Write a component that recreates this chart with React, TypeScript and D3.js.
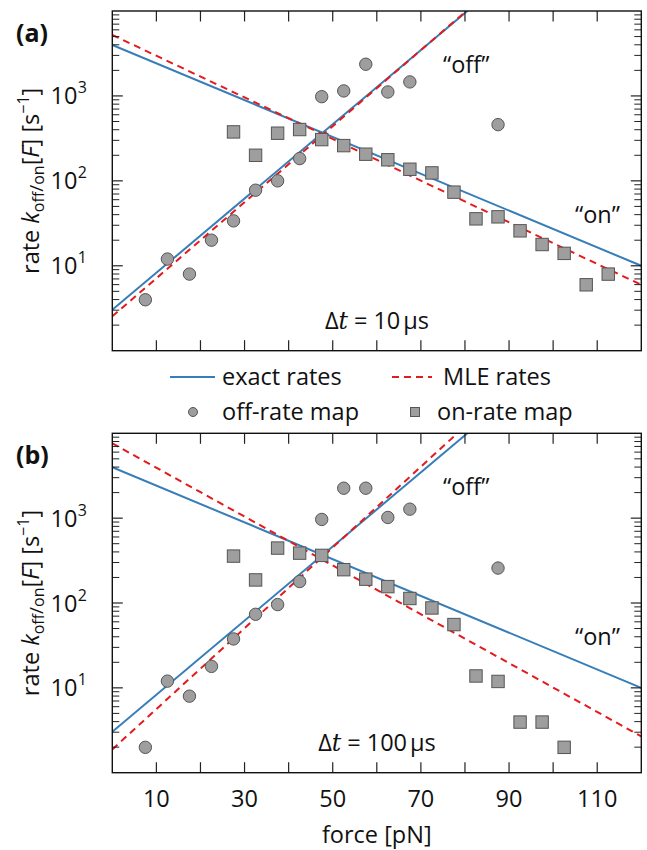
import React from "react";
import * as d3 from "d3";

// ---------- data ----------
const lineForce = [0, 120];
const exactOff = [3.03, 5.3e5];
const exactOn = [3980, 10];
const mleOffA = [2.54, 6.0e5];
const mleOnA = [5224, 5.97];
const mleOffB = [1.88, 9.7e5];
const mleOnB = [7620, 2.68];

const offForceA = [7.5, 12.5, 17.5, 22.5, 27.5, 32.5, 37.5, 42.5, 47.5, 52.5, 57.5, 62.5, 67.5, 87.5];
const offRateA = [3.98, 12.0, 7.98, 20.0, 33.8, 77.6, 100, 183, 980, 1145, 2362, 1114, 1462, 459];
const onForceA = [27.5, 32.5, 37.5, 42.5, 47.5, 52.5, 57.5, 62.5, 67.5, 72.5, 77.5, 82.5, 87.5, 92.5, 97.5, 102.5, 107.5, 112.5];
const onRateA = [377, 200, 364, 402, 306, 260, 206, 177, 137, 124, 73.6, 35.7, 37.7, 25.8, 17.8, 14.0, 5.97, 7.98];

const offForceB = [7.5, 12.5, 17.5, 22.5, 27.5, 32.5, 37.5, 42.5, 47.5, 52.5, 57.5, 62.5, 67.5, 87.5];
const offRateB = [1.99, 12.0, 7.98, 17.9, 37.7, 73.6, 95.8, 179, 966, 2254, 2254, 1019, 1276, 258];
const onForceB = [27.5, 32.5, 37.5, 42.5, 47.5, 52.5, 57.5, 62.5, 67.5, 72.5, 77.5, 82.5, 87.5, 92.5, 97.5, 102.5];
const onRateB = [357, 187, 444, 387, 364, 247, 191, 156, 113, 87.4, 55.7, 13.8, 11.9, 3.95, 3.95, 1.99];

const xTicks = [10, 20, 30, 40, 50, 60, 70, 80, 90, 100, 110];
const xTickLabels = [10, 30, 50, 70, 90, 110];
const yMajor = [10, 100, 1000];
const yMajorExp = ["1", "2", "3"];

const BLUE = "#377eb8";
const RED = "#e41a1c";
const FONT = "'Open Sans', 'DejaVu Sans', sans-serif";
const FS = 23.5;
const SUB = 16;

const X0 = 112.3, X1 = 641.3;

type PanelProps = {
  id: string;
  top: number;
  bottom: number;
  mleOff: number[];
  mleOn: number[];
  offF: number[];
  offR: number[];
  onF: number[];
  onR: number[];
  label: string;
  dt: string;
  showX: boolean;
};

function Panel(p: PanelProps) {
  const x = d3.scaleLinear().domain([0, 120]).range([X0, X1]);
  const y = d3.scaleLog().domain([1, 1e4]).range([p.bottom, p.top]);
  const line = d3
    .line<number>()
    .x((_, i) => x(lineForce[i]))
    .y((d) => y(d));
  const minors: number[] = [];
  for (let e = 0; e < 4; e++) for (let m = 2; m <= 9; m++) minors.push(m * Math.pow(10, e));
  const MAJ = 10.5, MIN = 7;
  const cy = (p.top + p.bottom) / 2;
  return (
    <g>
      <defs>
        <clipPath id={"clip" + p.id}>
          <rect x={X0} y={p.top} width={X1 - X0} height={p.bottom - p.top} />
        </clipPath>
      </defs>
      <g clipPath={`url(#clip${p.id})`}>
        <path d={line(exactOff) || ""} fill="none" stroke={BLUE} strokeWidth={2} />
        <path d={line(exactOn) || ""} fill="none" stroke={BLUE} strokeWidth={2} />
        <path d={line(p.mleOff) || ""} fill="none" stroke={RED} strokeWidth={2} strokeDasharray="7,5" />
        <path d={line(p.mleOn) || ""} fill="none" stroke={RED} strokeWidth={2} strokeDasharray="7,5" />
      </g>
      {p.offF.map((f, i) => (
        <circle key={"c" + i} cx={x(f)} cy={y(p.offR[i])} r={6.2} fill="#9e9e9e" stroke="#555" strokeWidth={1} />
      ))}
      {p.onF.map((f, i) => (
        <rect key={"s" + i} x={x(f) - 6.2} y={y(p.onR[i]) - 6.2} width={12.4} height={12.4} fill="#9e9e9e" stroke="#555" strokeWidth={1} />
      ))}
      {/* ticks */}
      {xTicks.map((t) => (
        <g key={"xt" + t} stroke="#222" strokeWidth={1.2}>
          <line x1={x(t)} x2={x(t)} y1={p.bottom} y2={p.bottom - MAJ} />
          <line x1={x(t)} x2={x(t)} y1={p.top} y2={p.top + MAJ} />
        </g>
      ))}
      {yMajor.map((t) => (
        <g key={"ym" + t} stroke="#222" strokeWidth={1.2}>
          <line x1={X0} x2={X0 + MAJ} y1={y(t)} y2={y(t)} />
          <line x1={X1} x2={X1 - MAJ} y1={y(t)} y2={y(t)} />
        </g>
      ))}
      {minors.map((t, i) => (
        <g key={"yn" + i} stroke="#222" strokeWidth={1}>
          <line x1={X0} x2={X0 + MIN} y1={y(t)} y2={y(t)} />
          <line x1={X1} x2={X1 - MIN} y1={y(t)} y2={y(t)} />
        </g>
      ))}
      <rect x={X0} y={p.top} width={X1 - X0} height={p.bottom - p.top} fill="none" stroke="#111" strokeWidth={1.4} />
      {/* y tick labels */}
      {yMajor.map((t, i) => (
        <text key={"yl" + t} x={87} y={y(t) + 8.5} textAnchor="end" fontFamily={FONT} fontSize={FS} fill="#111">
          10
          <tspan dx={0.5} dy={-11} fontSize={SUB}>{yMajorExp[i]}</tspan>
        </text>
      ))}
      {/* x tick labels */}
      {p.showX &&
        xTickLabels.map((t) => (
          <text key={"xl" + t} x={x(t)} y={p.bottom + 34} textAnchor="middle" fontFamily={FONT} fontSize={FS} fill="#111">
            {t}
          </text>
        ))}
      {/* y label */}
      <text transform={`translate(39,${cy}) rotate(-90)`} textAnchor="middle" fontFamily={FONT} fontSize={FS} fill="#111">
        <tspan>rate </tspan>
        <tspan fontStyle="italic">k</tspan>
        <tspan fontSize={SUB} dy={5}>off</tspan>
        <tspan fontSize={19} dy={-1}>/</tspan>
        <tspan fontSize={SUB} dy={1}>on</tspan>
        <tspan dy={-5}>[</tspan>
        <tspan fontStyle="italic">F</tspan>
        <tspan>] [s</tspan>
        <tspan fontSize={SUB} dy={-10}>−1</tspan>
        <tspan dy={10}>]</tspan>
      </text>
      {/* panel label */}
      <text x={16} y={p.top + 31} fontFamily={FONT} fontWeight="bold" fontSize={25} fill="#111">
        {p.label}
      </text>
      {/* annotations */}
      <text x={443} y={p.top + 62} fontFamily={FONT} fontSize={FS} fill="#111">“off”</text>
      <text x={575} y={p.top + 212} fontFamily={FONT} fontSize={FS} fill="#111">“on”</text>
      <text x={377} y={p.top + 318} textAnchor="middle" fontFamily={FONT} fontSize={FS} fill="#111">
        <tspan>Δ</tspan>
        <tspan fontStyle="italic" fontFamily="'DejaVu Serif', serif">t</tspan>
        <tspan dx={6}>=</tspan>
        <tspan dx={6}>{p.dt}</tspan>
        <tspan dx={3}>μs</tspan>
      </text>
    </g>
  );
}

export default function App() {
  return (
    <svg width={647} height={850} style={{ display: "block", position: "absolute", left: 0, top: 0 }}>
      <rect width={647} height={850} fill="#fff" />
      <Panel id="a" top={11} bottom={350.7} mleOff={mleOffA} mleOn={mleOnA} offF={offForceA} offR={offRateA} onF={onForceA} onR={onRateA} label="(a)" dt="10" showX={false} />
      <Panel id="b" top={433.3} bottom={772.7} mleOff={mleOffB} mleOn={mleOnB} offF={offForceB} offR={offRateB} onF={onForceB} onR={onRateB} label="(b)" dt="100" showX={true} />
      {/* legend */}
      <g fontFamily={FONT} fontSize={FS} fill="#111">
        <line x1={170} x2={215} y1={377} y2={377} stroke={BLUE} strokeWidth={2} />
        <text x={222} y={385}>exact rates</text>
        <line x1={392} x2={432} y1={377} y2={377} stroke={RED} strokeWidth={2} strokeDasharray="7,5" />
        <text x={443} y={385}>MLE rates</text>
        <circle cx={193} cy={412} r={4.5} fill="#9e9e9e" stroke="#555" strokeWidth={1} />
        <text x={222} y={420}>off-rate map</text>
        <rect x={410.5} y={407.5} width={9} height={9} fill="#9e9e9e" stroke="#555" strokeWidth={1} />
        <text x={437} y={420}>on-rate map</text>
      </g>
      <text x={376.8} y={843} textAnchor="middle" fontFamily={FONT} fontSize={FS} fill="#111">force [pN]</text>
    </svg>
  );
}
